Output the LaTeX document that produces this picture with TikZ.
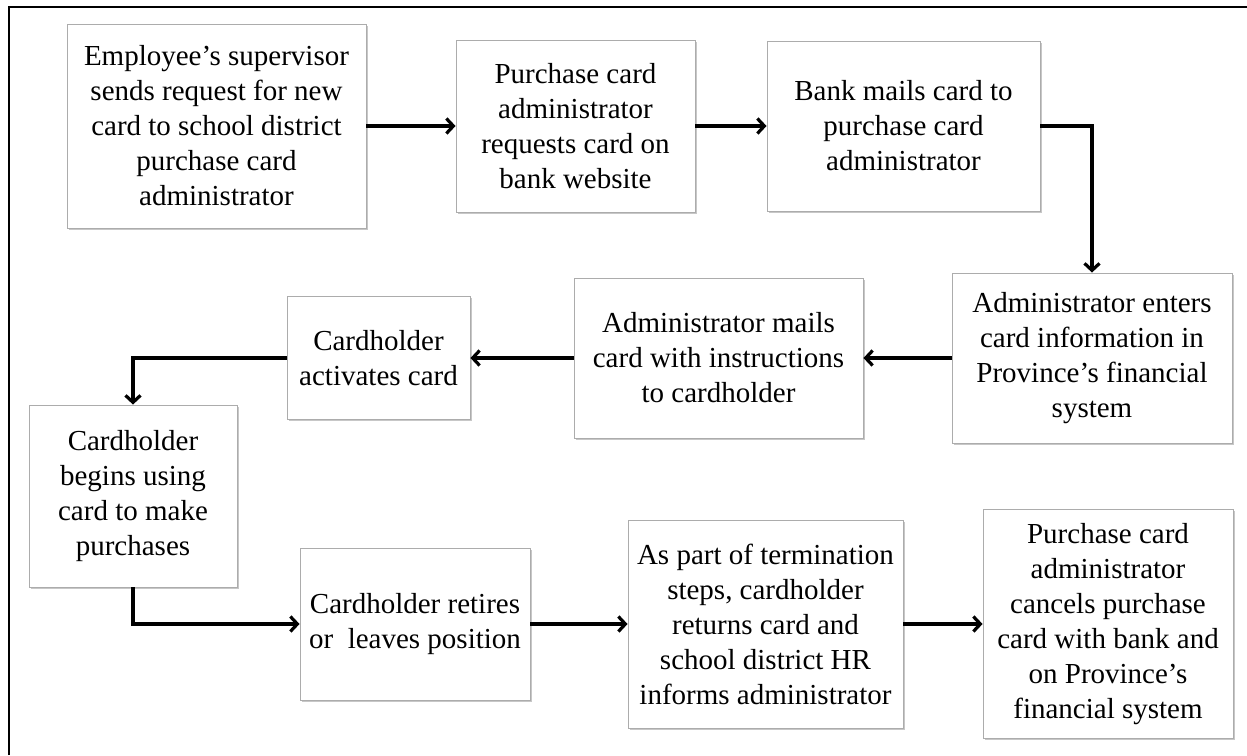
\documentclass[tikz,border=0pt]{standalone}
\usepackage{fontspec}
\setmainfont{Liberation Serif}
\usetikzlibrary{arrows.meta,shadows}
\begin{document}
\begin{tikzpicture}[x=1pt,y=1pt,
  box/.style={draw=gray!65, line width=0.9pt, fill=white, align=center, inner sep=0pt,
    font=\fontsize{29}{35}\selectfont,
    drop shadow={shadow xshift=1.6pt, shadow yshift=-1.6pt, fill=gray!55, opacity=0.8}},
  flow/.style={line width=3.2pt, -{Straight Barb[length=7pt,width=15pt]}}]
\useasboundingbox (0,0) rectangle (1247,-755);
\draw[line width=2pt] (9,-755) -- (9,-7) -- (1247,-7);
\node[box, minimum width=299, minimum height=204] (b1) at (216.5,-126)
  {\raisebox{-5pt}{\parbox{290pt}{\centering Employee’s supervisor\\sends request for new\\card to school district\\purchase card\\administrator}}};
\node[box, minimum width=239, minimum height=172] (b2) at (575.5,-126)
  {Purchase card\\administrator\\requests card on\\bank website};
\node[box, minimum width=273, minimum height=170] (b3) at (903.5,-126)
  {Bank mails card to\\purchase card\\administrator};
\node[box, minimum width=280, minimum height=170] (b4) at (1092,-358)
  {Administrator enters\\card information in\\Province’s financial\\system};
\node[box, minimum width=289, minimum height=160] (b5) at (718.5,-358)
  {Administrator mails\\card with instructions\\to cardholder};
\node[box, minimum width=183, minimum height=123] (b6) at (378.5,-358)
  {Cardholder\\activates card};
\node[box, minimum width=208, minimum height=182] (b7) at (133,-496)
  {Cardholder\\begins using\\card to make\\purchases};
\node[box, minimum width=230, minimum height=152] (b8) at (415,-624)
  {Cardholder retires\\or\ \ leaves position};
\node[box, minimum width=275, minimum height=208] (b9) at (765.5,-624)
  {As part of termination\\steps, cardholder\\returns card and\\school district HR\\informs administrator};
\node[box, minimum width=250, minimum height=229] (b10) at (1108,-624)
  {Purchase card\\administrator\\cancels purchase\\card with bank and\\on Province’s\\financial system};
\draw[flow] (b1.east) -- (b2.west);
\draw[flow] (b2.east) -- (b3.west);
\draw[flow] (b3.east) -| (b4.north);
\draw[flow] (b4.west) -- (b5.east);
\draw[flow] (b5.west) -- (b6.east);
\draw[flow] (b6.west) -| (b7.north);
\draw[flow] (b7.south) |- (b8.west);
\draw[flow] (b8.east) -- (b9.west);
\draw[flow] (b9.east) -- (b10.west);
\end{tikzpicture}
\end{document}
